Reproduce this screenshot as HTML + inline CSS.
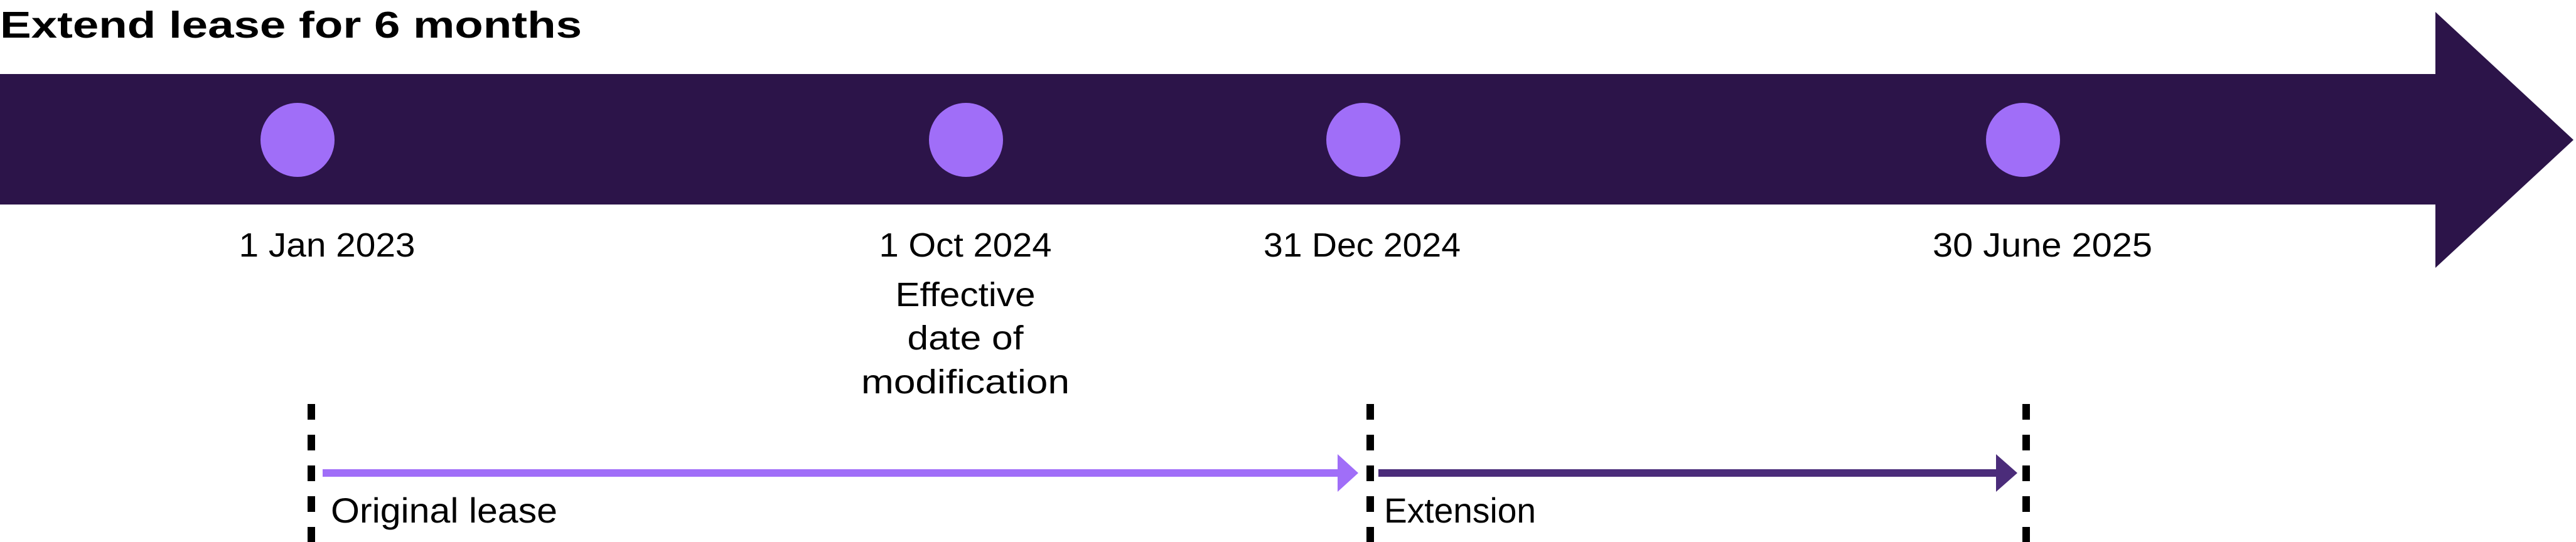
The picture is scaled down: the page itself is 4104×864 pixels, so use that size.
<!DOCTYPE html>
<html><head><meta charset="utf-8"><style>
html,body{margin:0;padding:0;background:#fff;}
svg{display:block;}
text{font-family:"Liberation Sans",sans-serif;fill:#000;}
</style></head><body>
<svg width="4104" height="864" viewBox="0 0 4104 864" xmlns="http://www.w3.org/2000/svg">
<text x="0" y="60" font-size="59" font-weight="bold" textLength="927" lengthAdjust="spacingAndGlyphs">Extend lease for 6 months</text>
<polygon points="0,118 3880,118 3880,19 4100,223 3880,427 3880,326 0,326" fill="#2C1449"/>
<g fill="#A06EF8">
<circle cx="474" cy="223" r="59"/>
<circle cx="1539" cy="223" r="59"/>
<circle cx="2172" cy="223" r="59"/>
<circle cx="3223" cy="223" r="59"/>
</g>
<g font-size="54" text-anchor="middle">
<text x="521" y="409" textLength="281" lengthAdjust="spacingAndGlyphs">1 Jan 2023</text>
<text x="1538" y="409" textLength="275" lengthAdjust="spacingAndGlyphs">1 Oct 2024</text>
<text x="1538" y="488" textLength="223" lengthAdjust="spacingAndGlyphs">Effective</text>
<text x="1538" y="557" textLength="185" lengthAdjust="spacingAndGlyphs">date of</text>
<text x="1538" y="627" textLength="332" lengthAdjust="spacingAndGlyphs">modification</text>
<text x="2170" y="409" textLength="314" lengthAdjust="spacingAndGlyphs">31 Dec 2024</text>
<text x="3254" y="409" textLength="350" lengthAdjust="spacingAndGlyphs">30 June 2025</text>
</g>
<g stroke="#000" stroke-width="12" stroke-dasharray="25 24">
<line x1="496" y1="644" x2="496" y2="864"/>
<line x1="2183" y1="644" x2="2183" y2="864"/>
<line x1="3228" y1="644" x2="3228" y2="864"/>
</g>
<rect x="514" y="748" width="1620" height="12" fill="#A06EF8"/>
<polygon points="2131,724 2164,754 2131,784" fill="#A06EF8"/>
<rect x="2196" y="748" width="988" height="12" fill="#4B2C7A"/>
<polygon points="3180,724 3214,754 3180,784" fill="#4B2C7A"/>
<text x="527" y="833" font-size="56" textLength="361" lengthAdjust="spacingAndGlyphs">Original lease</text>
<text x="2205" y="833" font-size="56" textLength="242" lengthAdjust="spacingAndGlyphs">Extension</text>
</svg>
</body></html>
